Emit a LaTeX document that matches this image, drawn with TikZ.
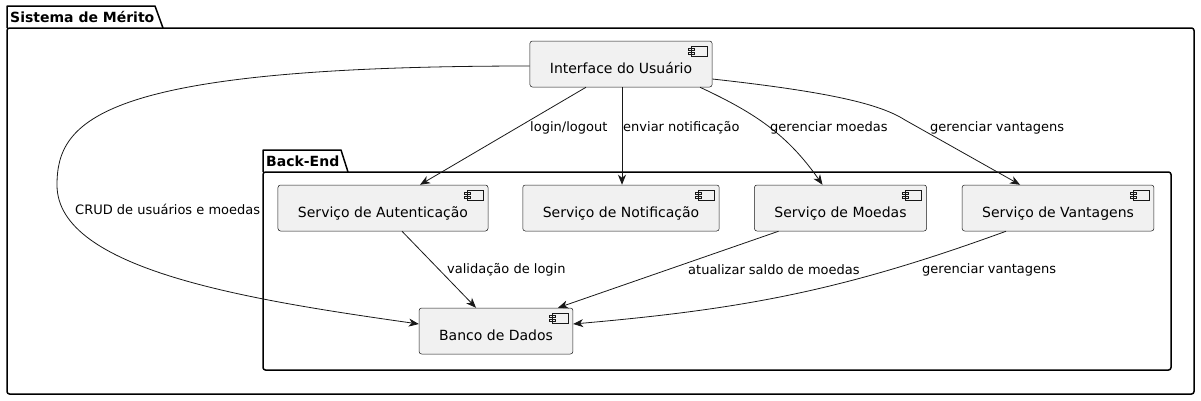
\documentclass[tikz,border=0pt]{standalone}
\usepackage{fontspec}
\setmainfont{DejaVu Sans}
\usetikzlibrary{arrows.meta}
\definecolor{compFill}{HTML}{F1F1F1}
\definecolor{compLine}{HTML}{181818}

\begin{document}
\begin{tikzpicture}[x=1pt,y=-1pt,
  comp/.style={draw=compLine, fill=compFill, line width=.5pt, rounded corners=2.5pt,
    font=\fontsize{14}{16}\selectfont, inner xsep=20pt, minimum height=46pt,
    text height=22pt, text depth=3.5pt,
    path picture={
      \draw[compLine, line width=.5pt, fill=compFill, sharp corners]
        ([shift={(-21,5)}]path picture bounding box.north east) rectangle ([shift={(-5,15)}]path picture bounding box.north east)
        ([shift={(-24,7)}]path picture bounding box.north east) rectangle ([shift={(-18,9.5)}]path picture bounding box.north east)
        ([shift={(-24,11)}]path picture bounding box.north east) rectangle ([shift={(-18,13.5)}]path picture bounding box.north east);
    }},
  pkg/.style={line width=1.5pt, line join=round},
  title/.style={font=\bfseries\fontsize{14}{16}\selectfont, anchor=west, inner sep=0pt},
  lnk/.style={compLine, line width=.8pt, -{Stealth[length=10pt,width=8pt,inset=3pt]}},
  lbl/.style={font=\fontsize{13}{15}\selectfont, anchor=west, inner sep=0pt}]
\useasboundingbox (0,0) rectangle (1201,400);
\def\tabSistema{(7,28) |- (155,6) -- (163,28)}
\def\tabBackEnd{(263,172) |- (341,150) -- (348,172)}
% packages
\draw[pkg] \tabSistema;
\draw[pkg, rounded corners=2.5pt] (7,28) rectangle (1194,394);
\node[title] (sistema) at (10,17) {Sistema de Mérito};
\draw[pkg] \tabBackEnd;
\draw[pkg, rounded corners=2.5pt] (263,172) rectangle (1171,370);
\node[title] (backend) at (266,161) {Back-End};
% components
\node[comp] (ui) at (621,64) {Interface do Usuário};
\node[comp] (auth) at (383,208) {Serviço de Autenticação};
\node[comp] (notif) at (621,208) {Serviço de Notificação};
\node[comp] (moedas) at (840.5,208) {Serviço de Moedas};
\node[comp] (vant) at (1058,208) {Serviço de Vantagens};
\node[comp] (banco) at (496,331) {Banco de Dados};
% links
\draw[lnk] ([yshift=-2pt]ui.west) .. controls (100,66) and (57,120) .. (57,185)
  .. controls (57,270) and (250,300) .. ([yshift=7pt]banco.west);
\draw[lnk] ([xshift=-35pt]ui.south) -- ([xshift=37pt]auth.north);
\draw[lnk] ([xshift=1pt]ui.south) -- ([xshift=1pt]notif.north);
\draw[lnk] ([xshift=79pt]ui.south) to[out=-25,in=125] ([xshift=-18pt]moedas.north);
\draw[lnk] ([yshift=-15pt]ui.east) .. controls (830,92) and (880,104) .. (905,120)
  -- ([xshift=-38pt]vant.north);
\draw[lnk] ([xshift=19pt]auth.south) -- ([xshift=-20pt]banco.north);
\draw[lnk] ([xshift=-62pt]moedas.south) -- ([xshift=62pt]banco.north);
\draw[lnk] ([xshift=-52pt]vant.south) to[out=200,in=5] ([yshift=7pt]banco.east);
% labels
\node[lbl] (lCrud) at (75,209) {CRUD de usuários e moedas};
\node[lbl] (lLogin) at (530,128) {login/logout};
\node[lbl] (lNotif) at (623,128) {enviar notificação};
\node[lbl] (lMoedas) at (770,128) {gerenciar moedas};
\node[lbl] (lVant) at (930,128) {gerenciar vantagens};
\node[lbl] (lValid) at (447,270) {validação de login};
\node[lbl] (lSaldo) at (688,270) {atualizar saldo de moedas};
\node[lbl] (lVant2) at (922,270) {gerenciar vantagens};
%\node[lbl] at (620,20) {};
\end{tikzpicture}
\end{document}
